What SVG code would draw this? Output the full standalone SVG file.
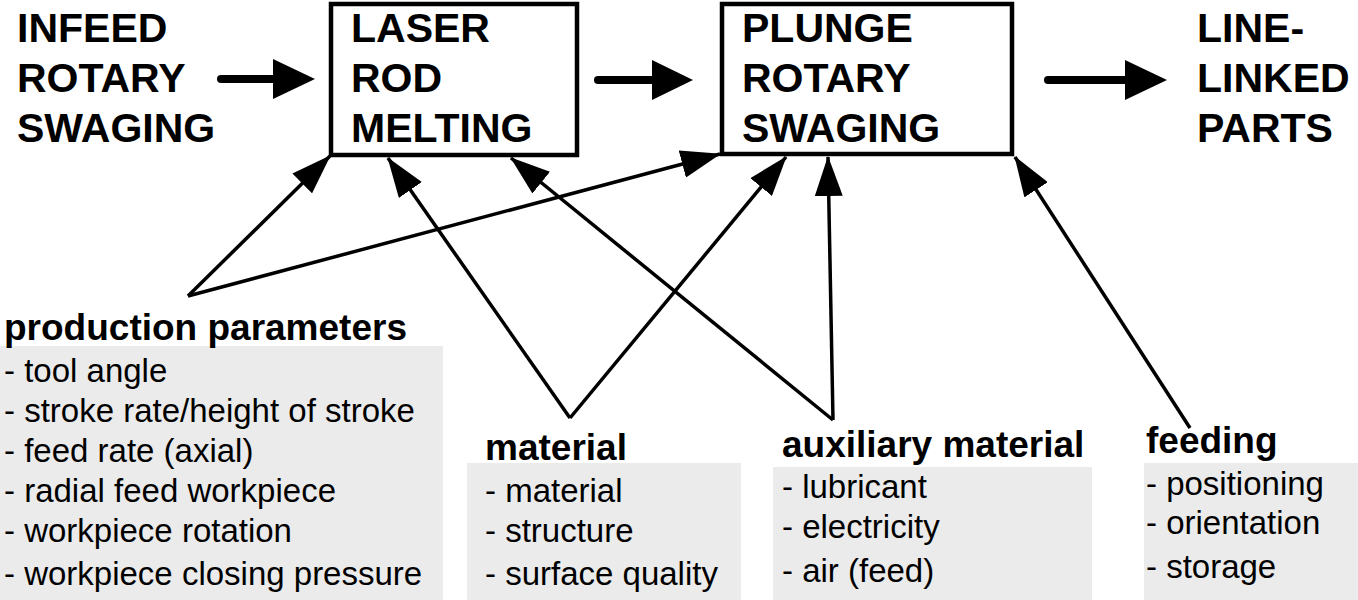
<svg xmlns="http://www.w3.org/2000/svg" width="1358" height="600" viewBox="0 0 1358 600">
<style>
.h{font-family:"Liberation Sans",Arial,sans-serif;font-weight:bold;font-size:41px;fill:#000}
.lb{font-family:"Liberation Sans",Arial,sans-serif;font-weight:bold;font-size:37px;fill:#000}
.it{font-family:"Liberation Sans",Arial,sans-serif;font-size:33px;fill:#000}
.box{fill:#fff;stroke:#000;stroke-width:4.5}
.gray{fill:#ebebeb;stroke:none}
.thin{fill:none;stroke:#000;stroke-width:3.5;marker-end:url(#ah)}
.thick{fill:none;stroke:#000;stroke-width:8;stroke-linecap:round}
</style>
<defs>
<marker id="ah" markerUnits="userSpaceOnUse" viewBox="0 0 40 28" markerWidth="40" markerHeight="28" refX="39" refY="14" orient="auto">
<path d="M0,0 L40,14 L0,28 z" fill="#000"/>
</marker>
</defs>
<rect width="1358" height="600" fill="#fff"/>

<g id="infeed">
<text class="h" x="17" y="42">INFEED</text>
<text class="h" x="17" y="92">ROTARY</text>
<text class="h" x="17" y="142">SWAGING</text>
</g>

<g id="laser">
<rect class="box" x="331" y="4" width="246" height="151"/>
<text class="h" x="351" y="42">LASER</text>
<text class="h" x="351" y="92">ROD</text>
<text class="h" x="351" y="142">MELTING</text>
</g>

<g id="plunge">
<rect class="box" x="722" y="4" width="290" height="150"/>
<text class="h" x="742" y="42">PLUNGE</text>
<text class="h" x="742" y="92">ROTARY</text>
<text class="h" x="742" y="142">SWAGING</text>
</g>

<g id="parts">
<text class="h" x="1197" y="42">LINE-</text>
<text class="h" x="1197" y="92">LINKED</text>
<text class="h" x="1197" y="142">PARTS</text>
</g>

<g id="production">
<rect class="gray" x="0" y="346" width="443" height="254"/>
<text class="lb" x="4" y="340">production parameters</text>
<text class="it" x="4" y="382">- tool angle</text>
<text class="it" x="4" y="422">- stroke rate/height of stroke</text>
<text class="it" x="4" y="462">- feed rate (axial)</text>
<text class="it" x="4" y="502">- radial feed workpiece</text>
<text class="it" x="4" y="542">- workpiece rotation</text>
<text class="it" x="4" y="585">- workpiece closing pressure</text>
</g>

<g id="material">
<rect class="gray" x="467" y="463" width="274" height="137"/>
<text class="lb" x="485" y="460">material</text>
<text class="it" x="485" y="502">- material</text>
<text class="it" x="485" y="542">- structure</text>
<text class="it" x="485" y="585">- surface quality</text>
</g>

<g id="auxiliary">
<rect class="gray" x="773" y="467" width="319" height="133"/>
<text class="lb" x="782" y="457">auxiliary material</text>
<text class="it" x="782" y="498">- lubricant</text>
<text class="it" x="782" y="538">- electricity</text>
<text class="it" x="782" y="582">- air (feed)</text>
</g>

<g id="feeding">
<rect class="gray" x="1144" y="463" width="214" height="137"/>
<text class="lb" x="1146" y="453">feeding</text>
<text class="it" x="1146" y="495">- positioning</text>
<text class="it" x="1146" y="534">- orientation</text>
<text class="it" x="1146" y="578">- storage</text>
</g>

<g id="connectors">
<line class="thick" x1="221" y1="79" x2="278" y2="79"/>
<polygon points="273,59 315,79 273,99"/>
<line class="thick" x1="598" y1="80" x2="656" y2="80"/>
<polygon points="652,60 693,80 652,100"/>
<line class="thick" x1="1048" y1="80" x2="1128" y2="80"/>
<polygon points="1125,60 1167,80 1125,100"/>

<line class="thin" x1="188" y1="296" x2="330" y2="156"/>
<line class="thin" x1="188" y1="296" x2="720" y2="154"/>
<line class="thin" x1="570" y1="418" x2="388" y2="158"/>
<line class="thin" x1="570" y1="418" x2="786" y2="157"/>
<line class="thin" x1="833" y1="420" x2="511" y2="158"/>
<line class="thin" x1="833" y1="420" x2="828" y2="157"/>
<line class="thin" x1="1190" y1="428" x2="1015" y2="157"/>
</g>
</svg>
